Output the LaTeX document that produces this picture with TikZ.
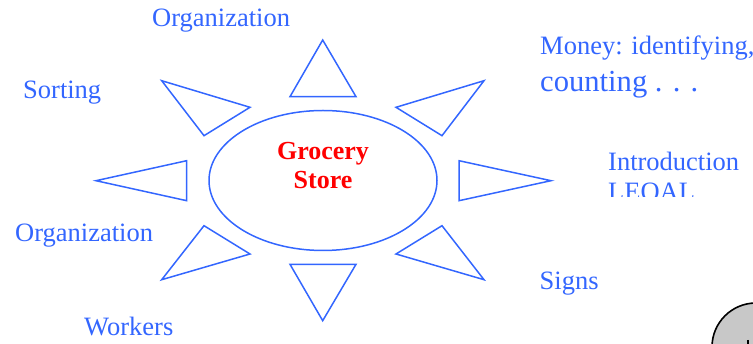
\documentclass[tikz,border=0pt]{standalone}
\usepackage{fontspec}
\setmainfont{Liberation Serif}
\usetikzlibrary{shapes.geometric}
\definecolor{lblue}{RGB}{51,102,255}
\definecolor{cgray}{RGB}{200,200,200}
\tikzset{
  lbl/.style={anchor=base west, inner sep=0pt, text=lblue, font=\fontsize{26.5}{30}\selectfont},
  ray/.style={draw=lblue, line width=1.5pt, line join=miter},
  redtxt/.style={anchor=base, inner sep=0pt, text=red, font=\fontsize{26}{29}\selectfont\bfseries},
}
\begin{document}
\begin{tikzpicture}[x=1pt,y=-1pt]
\useasboundingbox (0,0) rectangle (753,344);
% center ellipse
\node[ellipse, draw=lblue, line width=1.5pt, minimum width=228pt, minimum height=140pt, inner sep=0pt] (store) at (323,180.5) {};
\node[redtxt] (g) at (323,160) {Grocery};
\node[redtxt] (s) at (323,189) {Store};
% rays
\draw[ray] (322.7,40) -- (356,96.7) -- (290,96.7) -- cycle;
\draw[ray] (161.7,80.7) -- (250,107.3) -- (204,135.7) -- cycle;
\draw[ray] (484,80.7) -- (396,107.3) -- (442,135.7) -- cycle;
\draw[ray] (459,160.7) -- (551,180.7) -- (459,200.7) -- cycle;
\draw[ray] (96,180.7) -- (186.7,160.7) -- (186.7,200.7) -- cycle;
\draw[ray] (161.7,279.7) -- (250,254) -- (204,225.7) -- cycle;
\draw[ray] (484,279.7) -- (396,254) -- (442,225.7) -- cycle;
\draw[ray] (290,264.3) -- (356,264.3) -- (322.7,320.7) -- cycle;
% labels
\node[lbl] (org1) at (152,26.5) {Organization};
\node[lbl] (sort) at (23,98.5) {Sorting};
\node[lbl] (money) at (540,54.3) {Money: identifying,};
\node[lbl, font=\fontsize{30.6}{34}\selectfont] (count) at (540,91.7) {counting . . .};
\node[lbl] (intro) at (608,171) {Introduction};
\begin{scope}
\clip (590,140) rectangle (753,197);
\node[lbl] (leoal) at (608,201) {LEOAL};
\end{scope}
\node[lbl] (org2) at (15,242) {Organization};
\node[lbl] (signs) at (539.5,289.5) {Signs};
\node[lbl] (work) at (84,336) {Workers};
% corner circle
\begin{scope}
\clip (0,0) rectangle (753,344);
\draw[fill=cgray, draw=black, line width=1.6pt] (756,347) circle (44);
\draw[black, line width=1.2pt] (748,340) -- (748,344);
\end{scope}
\end{tikzpicture}
\end{document}
